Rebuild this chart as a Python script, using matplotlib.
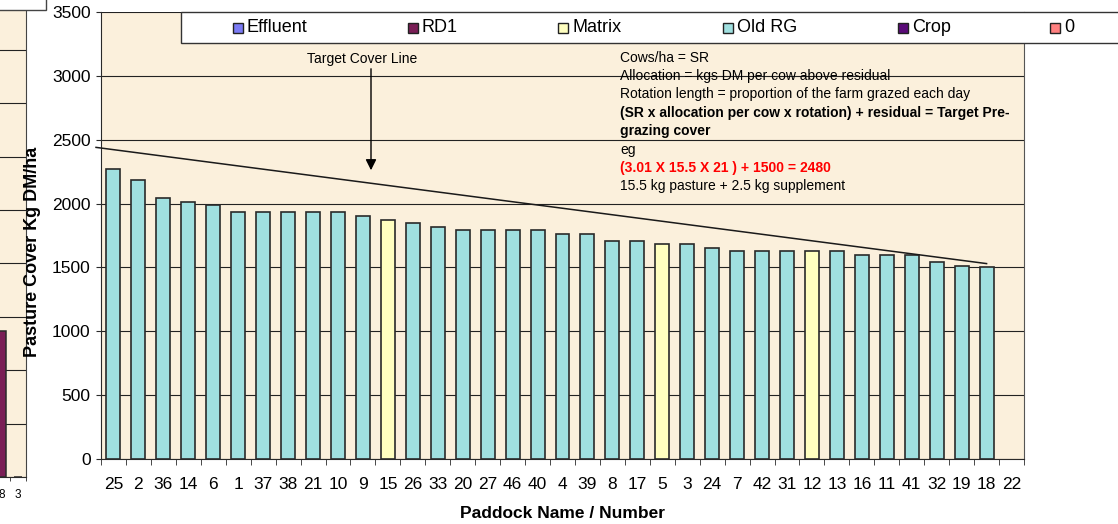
import numpy as np
import matplotlib
matplotlib.use("Agg")
import matplotlib.pyplot as plt
from matplotlib.patches import Rectangle

plt.rcParams['font.family'] = ['Liberation Sans', 'DejaVu Sans']

# paddocks in ranking order, pasture cover (kg DM/ha) and pasture type
paddocks = ["25", "2", "36", "14", "6", "1", "37", "38", "21", "10", "9", "15", "26",
            "33", "20", "27", "46", "40", "4", "39", "8", "17", "5", "3", "24", "7",
            "42", "31", "12", "13", "16", "11", "41", "32", "19", "18", "22"]
cover = [2270, 2185, 2045, 2015, 1990, 1935, 1935, 1935, 1935, 1935, 1900, 1875, 1845,
         1820, 1790, 1790, 1790, 1790, 1765, 1765, 1705, 1705, 1680, 1680, 1650, 1625,
         1625, 1625, 1625, 1625, 1595, 1595, 1595, 1540, 1510, 1500, 0]
ptype = ["Old RG"] * 11 + ["Matrix"] + ["Old RG"] * 10 + ["Matrix"] + ["Old RG"] * 5 + \
        ["Matrix"] + ["Old RG"] * 8

# target cover line (start / end)
target_x = [-0.7, 35]
target_y = [2440, 1530]

legend_labels = ["Effluent", "RD1", "Matrix", "Old RG", "Crop", "0"]
legend_colors = ["#7B7BF5", "#7A1E56", "#FFFFC0", "#A0E0E0", "#5A0A78", "#FF8080"]
type_colors = dict(zip(legend_labels, legend_colors))

# neighbouring chart cut off on the left
frag_cats = ["8", "3"]
frag_vals = [1370, 0]

note_lines = [
    ("Cows/ha = SR", "normal", "black"),
    ("Allocation = kgs DM per cow above residual", "normal", "black"),
    ("Rotation length = proportion of the farm grazed each day", "normal", "black"),
    ("(SR x allocation per cow x rotation) + residual = Target Pre-", "bold", "black"),
    ("grazing cover", "bold", "black"),
    ("eg", "normal", "black"),
    ("(3.01 X 15.5 X 21 ) + 1500 = 2480", "bold", "#FF0000"),
    ("15.5 kg pasture + 2.5 kg supplement", "normal", "black"),
]

W, H = 1118, 524
def fx(p):
    return p / W
def fy(p):
    return 1 - p / H

BG = "#FBF0DC"
EDGE = "#2A2A2A"
GRID = "#222222"

fig = plt.figure(figsize=(W / 100, H / 100), dpi=100)

# ---- fragment of the previous chart ----
ax2 = fig.add_axes([fx(-6.3), fy(477), fx(25.7) - fx(-6.3), fy(-3.6) - fy(477)])
ax2.set_facecolor(BG)
x2 = np.arange(len(frag_cats))
ax2.bar(x2, frag_vals, width=0.5, color=type_colors["RD1"], edgecolor=EDGE, linewidth=1.1, zorder=3)
ax2.set_xlim(-0.5, len(frag_cats) - 0.5)
ax2.set_ylim(0, 4500)
ax2.set_yticks(np.arange(0, 4501, 500))
ax2.yaxis.grid(True, color=GRID, lw=0.8)
ax2.set_axisbelow(True)
ax2.set_xticks(x2)
ax2.set_xticklabels(frag_cats, fontsize=8.5)
ax2.set_xticks(np.arange(-0.5, len(frag_cats), 1), minor=True)
ax2.tick_params(axis="x", which="major", length=0, pad=9)
ax2.tick_params(axis="x", which="minor", length=3, color=EDGE)
ax2.tick_params(axis="y", left=False, labelleft=False)
for s in ["top", "left"]:
    ax2.spines[s].set_visible(False)
ax2.spines["right"].set_color("#444444")
ax2.spines["bottom"].set_color(EDGE)
fig.add_artist(Rectangle((fx(-2), fy(10)), fx(46) + fx(2), fy(-2) - fy(10),
                         transform=fig.transFigure, facecolor="white",
                         edgecolor="#444444", lw=1))

# ---- main chart ----
ax = fig.add_axes([fx(101), fy(459), fx(1024) - fx(101), fy(12) - fy(459)])
ax.set_facecolor(BG)
x = np.arange(len(paddocks))
for i, (v, t) in enumerate(zip(cover, ptype)):
    if v > 0:
        ax.bar(i, v, width=0.56, color=type_colors[t], edgecolor=EDGE, linewidth=1.2, zorder=3)

ax.plot(target_x, target_y, color="#1A1A1A", lw=1.1, zorder=4, clip_on=False)

ax.set_xlim(-0.5, len(paddocks) - 0.5)
ax.set_ylim(0, 3500)
ax.set_yticks(np.arange(0, 3501, 500))
ax.tick_params(axis="y", labelsize=12.5, length=3.5, pad=4, color=EDGE)
ax.yaxis.grid(True, color=GRID, lw=0.8)
ax.set_axisbelow(True)
ax.set_xticks(x)
ax.set_xticklabels(paddocks, fontsize=12.5)
ax.set_xticks(np.arange(-0.5, len(paddocks), 1), minor=True)
ax.tick_params(axis="x", which="major", length=0, pad=13)
ax.tick_params(axis="x", which="minor", length=4, color=EDGE)
ax.spines["top"].set_visible(False)
ax.spines["left"].set_color(EDGE)
ax.spines["bottom"].set_color(EDGE)
ax.spines["right"].set_color("#555555")

fig.text(fx(33), fy(252), "Pasture Cover Kg DM/ha", rotation=90, fontsize=13,
         fontweight="bold", ha="center", va="center")
fig.text(fx(562), fy(513), "Paddock Name / Number", fontsize=12.5,
         fontweight="bold", ha="center", va="center")

# target cover line label and arrow
fig.text(fx(362), fy(59), "Target Cover Line", fontsize=10, ha="center", va="center")
ax.annotate("", xy=(fx(371), fy(173)), xycoords="figure fraction",
            xytext=(fx(371), fy(66)), textcoords="figure fraction",
            arrowprops=dict(arrowstyle="-|>", color="black", lw=1, mutation_scale=16))

# explanation text
note_y = [58, 76, 94, 113, 131, 150, 168, 186]
for (txt, wt, col), yy in zip(note_lines, note_y):
    fig.text(fx(620), fy(yy), txt, fontsize=10, fontweight=wt, color=col,
             ha="left", va="center")

# legend box across the top
fig.add_artist(Rectangle((fx(181), fy(43)), fx(1130) - fx(181), fy(12) - fy(43),
                         transform=fig.transFigure, facecolor="white",
                         edgecolor="#333333", lw=1, zorder=5))
leg_x = [233, 408, 558, 723, 898, 1050]
for lx, lab, col in zip(leg_x, legend_labels, legend_colors):
    fig.add_artist(Rectangle((fx(lx), fy(33)), fx(10), fy(23) - fy(33),
                             transform=fig.transFigure, facecolor=col,
                             edgecolor="#222222", lw=1, zorder=6))
    t = fig.text(fx(lx + 14), fy(28), lab, fontsize=13, ha="left", va="center")
    t.set_zorder(6)

fig.savefig("out.png", dpi=100)
